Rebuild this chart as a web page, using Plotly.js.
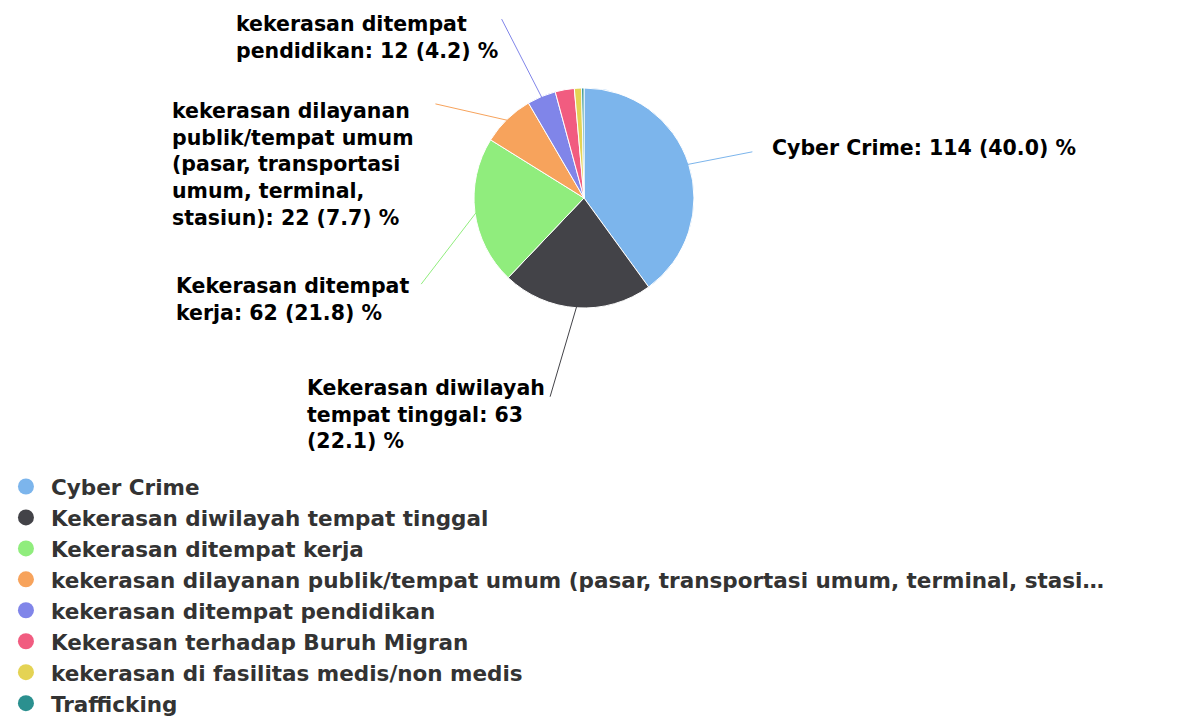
<!DOCTYPE html>
<html>
<head>
<meta charset="utf-8">
<script src="https://cdn.plot.ly/plotly-3.0.1.min.js"></script>
<style>html,body{margin:0;padding:0;background:#fff;}#chart{width:1183px;height:724px;}</style>
</head>
<body>
<div id="chart"></div>
<script>
const categories = [
  "Cyber Crime",
  "Kekerasan diwilayah tempat tinggal",
  "Kekerasan ditempat kerja",
  "kekerasan dilayanan publik/tempat umum (pasar, transportasi umum, terminal, stasiun)",
  "kekerasan ditempat pendidikan",
  "Kekerasan terhadap Buruh Migran",
  "kekerasan di fasilitas medis/non medis",
  "Trafficking"
];
const values = [114, 63, 62, 22, 12, 8, 3, 1];
const percents = [40.0, 22.1, 21.8, 7.7, 4.2, 2.8, 1.1, 0.4];
const showLabel = [true, true, true, true, true, false, false, false];
const colors = ["#7cb5ec", "#434348", "#90ed7d", "#f7a35c", "#8085e9", "#f15c80", "#e4d354", "#2b908f"];

const W = 1183, H = 724;
const FONT = "DejaVu Sans, sans-serif";
const DOM = {x: [0.40068, 0.58664], y: [0.57459, 0.87845]};

// label placement (text anchor in pixels, style only)
const labelPlace = [
  {tx: 772, ty: 148, xa: "left", ya: "middle", gap: 20},
  {tx: 545, ty: 414, xa: "right", ya: "middle", gap: 18},
  {tx: 409, ty: 300, xa: "right", ya: "middle", gap: 20},
  {tx: 414, ty: 99, xa: "right", ya: "top", gap: 22},
  {tx: 498, ty: 12, xa: "right", ya: "top", gap: 8}
];

const legendNames = categories.map(c => c.length > 81 ? c.slice(0, 81) + "\u2026" : c);

function wrap(s, w) {
  if (s.length <= 25) return s;
  const words = s.split(" ");
  const lines = [];
  let cur = "";
  words.forEach(wd => {
    const t = cur ? cur + " " + wd : wd;
    if (t.length > w && cur) { lines.push(cur); cur = wd; } else cur = t;
  });
  if (cur) lines.push(cur);
  return lines.join("<br>");
}

const data = [{
  type: "pie",
  labels: categories,
  values: values,
  textinfo: "none",
  sort: false,
  direction: "clockwise",
  rotation: 0,
  marker: {colors: colors, line: {color: "#ffffff", width: 1}},
  domain: DOM,
  showlegend: false,
  hoverinfo: "label+value+percent"
}];
categories.forEach((c, i) => {
  data.push({
    type: "scatter", mode: "markers", x: [null], y: [null],
    name: legendNames[i], marker: {color: colors[i], size: 22, symbol: "circle"},
    showlegend: true, hoverinfo: "skip"
  });
});

// connector anchors on the slice edges, derived from the values
const total = values.reduce((a, b) => a + b, 0);
const cx = (DOM.x[0] + DOM.x[1]) / 2 * W;
const cy = (1 - (DOM.y[0] + DOM.y[1]) / 2) * H;
const r = Math.min((DOM.x[1] - DOM.x[0]) * W, (DOM.y[1] - DOM.y[0]) * H) / 2 - 2;
const annotations = [];
let cum = 0;
values.forEach((v, i) => {
  const mid = (cum + v / 2) / total * 2 * Math.PI;
  cum += v;
  if (!showLabel[i]) return;
  const px = cx + r * Math.sin(mid);
  const py = cy - r * Math.cos(mid);
  const p = labelPlace[i];
  annotations.push({
    xref: "paper", yref: "paper",
    x: px / W, y: 1 - py / H,
    ax: p.tx - px, ay: p.ty - py,
    xanchor: p.xa, yanchor: p.ya,
    text: wrap(categories[i] + ": " + values[i] + " (" + percents[i].toFixed(1) + ") %", 22),
    align: "left",
    showarrow: true, arrowhead: 0, arrowwidth: 1, arrowcolor: colors[i],
    startstandoff: p.gap, borderpad: 0, borderwidth: 0,
    font: {family: FONT, size: 20.5, color: "#000000", weight: "bold"}
  });
});

const layout = {
  width: W, height: H,
  margin: {l: 0, r: 0, t: 0, b: 0},
  paper_bgcolor: "#ffffff", plot_bgcolor: "#ffffff",
  xaxis: {visible: false}, yaxis: {visible: false},
  showlegend: true,
  annotations: annotations,
  legend: {
    x: 0.0008, y: 0, xanchor: "left", yanchor: "bottom",
    orientation: "v", itemwidth: 40,
    font: {family: FONT, size: 21.5, color: "#333333", weight: "bold"},
    itemsizing: "trace", tracegroupgap: 0, bgcolor: "rgba(0,0,0,0)"
  }
};
Plotly.newPlot("chart", data, layout, {displayModeBar: false, staticPlot: true});
</script>
</body>
</html>
